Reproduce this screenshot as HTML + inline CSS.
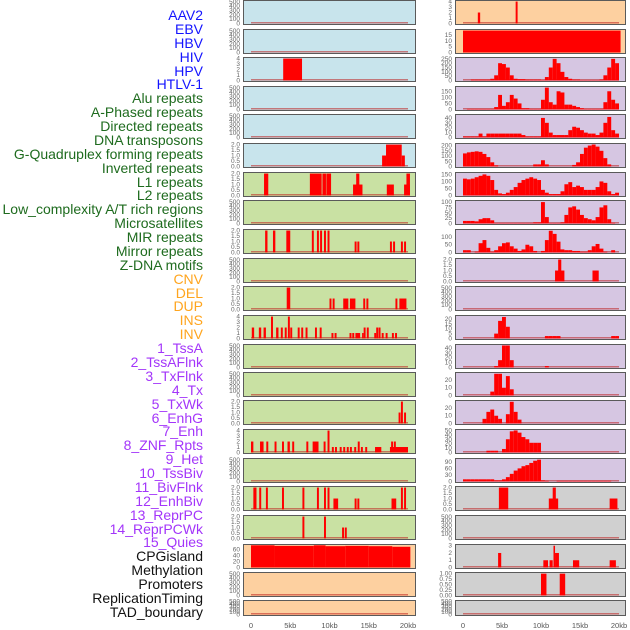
<!DOCTYPE html>
<html><head><meta charset="utf-8"><style>
html,body{margin:0;padding:0;background:#fff;width:630px;height:630px;overflow:hidden}
#labels div{position:absolute;right:427px;font:14px "Liberation Sans",sans-serif;white-space:nowrap;line-height:14px;transform:translateY(-7px)}
</style></head><body>
<div id="labels"></div>
<svg id="chart" width="630" height="630" style="position:absolute;left:0;top:0"></svg>
<script>
const labelNames = ["AAV2","EBV","HBV","HIV","HPV","HTLV-1","Alu repeats","A-Phased repeats","Directed repeats","DNA transposons","G-Quadruplex forming repeats","Inverted repeats","L1 repeats","L2 repeats","Low_complexity A/T rich regions","Microsatellites","MIR repeats","Mirror repeats","Z-DNA motifs","CNV","DEL","DUP","INS","INV","1_TssA","2_TssAFlnk","3_TxFlnk","4_Tx","5_TxWk","6_EnhG","7_Enh","8_ZNF_Rpts","9_Het","10_TssBiv","11_BivFlnk","12_EnhBiv","13_ReprPC","14_ReprPCWk","15_Quies","CPGisland","Methylation","Promoters","ReplicationTiming","TAD_boundary"];
const labelGroups = [6,13,5,15,5];
const groupColors = ["#1414ff","#1e6b1e","#ffa51e","#a335fa","#111111"];

const T500=[0,100,200,300,400,500], T2=[0,0.5,1,1.5,2], T4=[0,1,2,3,4];
// left column: segments [startKb,endKb,value]
const leftValues = [
 [],[],[[4.1,6.5,4]],[],[],
 [[16.7,17.2,1],[17.2,19.2,2],[19.2,19.6,1]],
 [[1.66,2.2,2],[7.5,9.0,2],[9.1,9.55,2],[9.6,10.2,2],[13.0,14.2,1],[13.4,13.8,2],[17.3,18.2,1],[19.5,20.25,1],[19.8,20.25,2]],
 [],
 [[1.8,2.1,2],[2.8,3.1,2],[4.5,5.0,2],[7.75,8.0,2],[8.4,8.65,2],[8.8,9.05,2],[9.3,9.55,2],[9.75,10.0,2],[13.2,13.45,1],[13.55,13.8,1],[17.7,17.95,1],[18.1,18.35,1],[19.1,19.35,1],[19.5,19.75,1]],
 [],
 [[4.55,5.0,2],[10.0,10.25,1],[10.4,10.65,1],[11.75,12.4,1],[12.6,13.3,1],[14.3,14.55,1],[14.7,14.95,1],[18.4,18.65,1],[18.9,19.8,1]],
 [[0.1,0.4,2],[1.0,1.3,2],[1.6,1.9,2],[2.55,2.8,4],[3.2,3.5,2],[3.8,4.05,2],[4.3,4.55,2],[4.7,4.95,4],[5.0,5.25,2],[5.95,6.2,2],[6.4,6.65,2],[6.95,7.2,2],[8.15,8.4,2],[8.75,9.0,2],[10.25,10.5,1],[10.65,10.9,1],[12.55,12.8,1],[12.9,13.15,1],[13.3,13.9,1],[14.15,14.35,1],[14.35,14.6,2],[14.75,15.0,2],[15.7,15.95,1],[15.95,16.2,2],[16.25,16.5,2],[16.65,16.9,1],[17.15,17.4,1],[17.95,18.2,1],[18.35,18.6,1]],
 [],[],
 [[18.8,19.05,1],[19.1,19.35,2],[19.5,19.75,1]],
 [[0.0,0.3,2],[1.15,1.6,2],[1.95,2.2,2],[3.0,3.25,2],[3.95,4.2,2],[4.65,4.95,2],[5.25,5.5,2],[7.05,7.3,2],[7.85,8.6,2],[9.25,9.5,2],[9.75,10.0,4],[10.3,10.55,1],[10.7,10.95,1],[11.3,11.55,1],[11.75,12.0,1],[12.2,12.45,1],[12.6,12.85,1],[13.15,13.4,1],[13.6,13.85,2],[14.0,14.25,1],[14.55,14.8,1],[15.8,16.6,1],[17.7,20.0,1],[17.85,18.1,2],[18.2,18.45,2]],
 [],
 [[0.3,0.7,2],[1.05,1.3,2],[1.9,2.15,2],[3.95,4.2,2],[6.55,6.8,2],[8.4,8.65,2],[9.3,9.55,2],[9.75,10.0,2],[10.5,11.1,1],[13.2,13.45,1],[13.55,13.8,1],[17.9,18.5,1],[19.1,19.35,2],[19.5,19.75,2]],
 [[6.55,6.8,2],[9.3,9.55,2],[11.6,11.85,1],[11.95,12.2,1]],
 [[0,3,75],[3,8,73],[8,9.5,75],[9.5,12,72],[12,15,73],[15,18,72],[18,20.3,70]],
 [],[]
];
const leftTicks = [T500,T500,T4,T500,T500,T2,T2,T500,T2,T500,T2,T4,T500,T500,T2,T4,T500,T2,T2,[0,20,40,60],T500,T500];
const leftMax = [520,520,4.1,520,520,2.05,2.05,520,2.05,520,2.05,4.1,520,520,2.05,4.1,520,2.05,2.05,76,520,520];
const leftBg = ["b","b","b","b","b","b","g","g","g","g","g","g","g","g","g","g","g","g","g","p","p","p"];

// right column: dense 0.5kb bins (40 values) or sparse segments
const rightBins = [
 null,null,
 [0,0,10,10,10,10,10,20,60,200,190,150,60,20,15,15,10,10,10,10,5,40,150,250,200,100,40,20,10,10,5,5,5,5,5,10,60,150,250,200],
 [0,5,5,5,5,5,5,5,20,120,30,60,120,90,50,10,10,5,5,5,80,180,60,40,150,140,40,40,30,20,10,5,5,5,5,5,60,150,80,50],
 [2,2,2,2,8,2,8,8,8,8,8,8,8,8,8,5,2,2,2,2,40,30,10,5,5,5,5,15,22,20,15,10,8,8,5,10,30,42,15,8],
 [125,135,140,145,140,120,90,40,10,0,0,0,0,0,0,0,0,0,20,20,60,20,0,0,0,0,0,0,15,40,120,180,200,210,190,150,80,20,0,0],
 [120,115,120,130,140,150,140,110,40,15,10,20,40,60,90,110,120,130,120,110,40,20,10,10,10,30,80,95,60,70,60,40,40,40,60,100,90,30,10,20],
 [12,12,12,10,20,25,25,15,2,2,2,2,2,2,2,2,2,2,5,5,100,30,2,2,2,5,40,75,80,65,40,25,20,15,30,75,85,20,3,0],
 [15,15,0,5,60,80,30,5,15,40,60,65,40,25,10,20,50,40,10,0,10,80,140,120,70,20,15,15,10,10,5,5,15,40,55,25,5,0,15,0],
 null,null,
 [0,0,0,0,0,0,0,0,5,18,22,12,0,0,0,0,0,0,0,0,0,2.5,2.5,2.5,2.5,0,0,0,0,0,0,0,0,0,0,0,0,0,2.5,2.5],
 [0,0,0,0,0,0,0,0,3,15,45,45,15,0,0,0,0,0,0,0,0,3,0,0,0,0,0,0,0,0,0,0,0,0,0,0,0,0,0,0],
 [0,0,0,0,0,0,0,5,28,28,10,25,8,0,0,0,0,0,0,0,0,0,0,0,0,0,0,0,0,0,0,0,0,0,0,0,0,0,0,0],
 [0,0,0,0,0,6,15,18,10,6,0,12,28,15,5,0,0,0,0,0,0,0,0,0,0,0,0,0,0,0,0,0,0,0,0,0,0,0,0,0],
 [0,0,0,0,0,0,4,4,4,0,8,30,48,50,45,35,30,22,22,22,0,0,0,0,0,0,0,0,0,0,0,0,0,0,0,0,0,0,0,0],
 [10,10,10,10,10,10,10,10,5,5,10,20,35,50,60,70,75,85,95,100,5,3,0,0,3,3,3,3,3,3,3,3,3,3,3,3,3,3,0,0],
 null,null,null,null,null
];
const rightSegs = [
 [[1.9,2.2,2],[6.75,7.0,4]],
 [[0,20.2,19]],
 null,null,null,null,null,null,null,
 [[11.8,13,1],[12.2,12.6,2],[16.6,17.4,1]],
 [],
 null,null,null,null,null,null,
 [[4.6,5.8,2],[11.0,12.2,1],[11.5,11.9,2],[18.8,19.8,1]],
 [],
 [[4.5,4.9,2],[10.3,10.9,1],[11.1,11.5,1],[11.6,11.8,3],[11.8,12.3,2],[14.1,14.9,1],[18.8,19.6,1]],
 [[10.0,10.7,1],[12.4,13.1,1]],
 []
];
const rightTicks = [T4,[0,5,10,15],[0,50,100,150,200,250],[0,50,100,150],[0,10,20,30,40],[0,50,100,150,200],[0,50,100,150],[0,25,50,75,100],[0,50,100],T2,T500,[0,5,10,15,20],[0,10,20,30,40],[0,10,20],[0,10,20],[0,10,20,30,40,50],[0,30,60,90],T2,T500,[0,1,2,3],[0,0.25,0.5,0.75,1],T500];
const rightMax = [4.1,19.5,260,185,46,215,160,105,145,2.05,520,23,46,29,29,51,103,2.05,520,3.1,1.03,520];
const rightBg = ["p","p","u","u","u","u","u","u","u","u","u","u","u","u","u","u","u","k","k","k","k","k"];
const xTicks = [0,5,10,15,20];
const xTickLabels = ["0","5kb","10kb","15kb","20kb"];

const bgColors = {b:"#c8e4ec",g:"#c9e1a3",p:"#fdd0a0",u:"#d6c6e2",k:"#d0d0d0"};
const NS="http://www.w3.org/2000/svg";
const svg=document.getElementById('chart');
function mk(tag,attrs,parent){const e=document.createElementNS(NS,tag);for(const k in attrs)e.setAttribute(k,attrs[k]);(parent||svg).appendChild(e);return e;}

// labels
const lab=document.getElementById('labels');
let gi=0,cnt=0;
labelNames.forEach((n,i)=>{
  const d=document.createElement('div');
  d.textContent=n;
  d.style.top=(15+i*13.88)+'px';
  d.style.color=groupColors[gi];
  
  
  lab.appendChild(d);
  cnt++; if(cnt>=labelGroups[gi]){gi++;cnt=0;}
});

const tops=[0,29,57,86,114,143,172,200,229,258,286,315,344,372,400,429,458,486,515,544,572,600];
const cols=[{x:243,w:173,x0:251,x1:408},{x:455,w:171,x0:463,x1:619}];
function fmt(v,ticks){
  const dec = ticks.some(t=>Math.round(t*100)%100!==0 && Math.round(t*100)%10!==0)?2:(ticks.some(t=>t%1!==0)?1:0);
  return v.toFixed(dec);
}
function binsToSegs(b){const s=[];b.forEach((v,i)=>{if(v>0)s.push([i*0.5,i*0.5+0.5,v]);});return s;}

function drawPanel(c,i,segs,ticks,ymax,bg){
  const col=cols[c];
  const top=tops[i], h=(i===21)?16:25;
  const g=mk('g',{});
  
  
  const r=mk('rect',{x:col.x+0.5,y:top+0.5,width:col.w-1,height:h-1,fill:bgColors[bg],stroke:'#5a5a5a','stroke-width':1},g);
  
  
  const y0=top+h-1.5, yt=top+1;
  const ys=v=>y0-(v/ymax)*(y0-yt);
  const xs=k=>col.x0+(k/20)*(col.x1-col.x0);
  const base=mk('rect',{x:xs(0),y:y0-1.5,width:xs(20)-xs(0),height:1.5,fill:'rgba(190,30,30,0.55)'},g);
  
  
  segs.forEach(s=>{
    const b=mk('rect',{x:xs(s[0]),y:ys(s[2]),width:Math.max(1.5,xs(s[1])-xs(s[0])),height:y0-ys(s[2]),fill:'#ff0000'},g);
    
    
  });
  ticks.forEach(t=>{
    const tx=mk('text',{x:col.x-3,y:ys(t)+2,'text-anchor':'end','font-size':'6.5','font-family':'Liberation Sans, sans-serif',fill:'#666'},g);
    tx.textContent=fmt(t,ticks);
    
    
  });
}
for(let i=0;i<22;i++){
  drawPanel(0,i,leftValues[i],leftTicks[i],leftMax[i],leftBg[i]);
  const segs=rightBins[i]?binsToSegs(rightBins[i]):rightSegs[i];
  drawPanel(1,i,segs,rightTicks[i],rightMax[i],rightBg[i]);
}
cols.forEach(col=>{
  xTicks.forEach((k,j)=>{
    const tx=mk('text',{x:col.x0+(k/20)*(col.x1-col.x0),y:628,'text-anchor':'middle','font-size':'7.5','font-family':'Liberation Sans, sans-serif',fill:'#555'});
    tx.textContent=xTickLabels[j];
    
    
  });
});
</script>
</body></html>
